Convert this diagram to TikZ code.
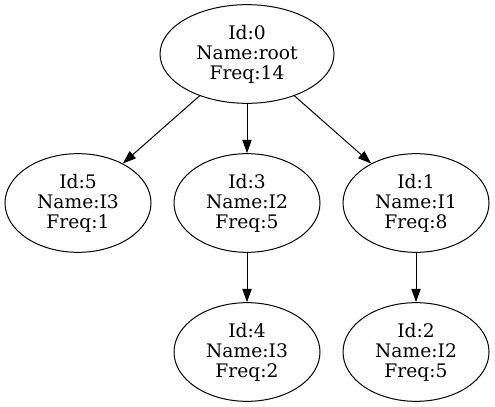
\documentclass[tikz,border=0pt]{standalone}
\usepackage{fontspec}
\setmainfont{DejaVu Serif}
\usetikzlibrary{shapes.geometric,arrows.meta}
\begin{document}
\begin{tikzpicture}[x=0.75pt,y=-0.75pt,
    tnode/.style={ellipse,draw,line width=0.75pt,inner sep=0pt,align=center,
        minimum width=109.5pt,minimum height=74pt,font=\fontsize{14}{15}\selectfont},
    >={Triangle[length=10pt,width=7pt]},every path/.style={line width=0.75pt}]
    \useasboundingbox (0,0) rectangle (495,406);
    \node[tnode,minimum width=130.5pt] (n0) at (247,54) {Id:0\\Name:root\\Freq:14};
    \node[tnode] (n5) at (78,203) {Id:5\\Name:I3\\Freq:1};
    \node[tnode] (n3) at (247,203) {Id:3\\Name:I2\\Freq:5};
    \node[tnode] (n1) at (416,203) {Id:1\\Name:I1\\Freq:8};
    \node[tnode] (n4) at (247,352) {Id:4\\Name:I3\\Freq:2};
    \node[tnode] (n2) at (416,352) {Id:2\\Name:I2\\Freq:5};
    \draw[->] (n0) -- (n5);
    \draw[->] (n0) -- (n3);
    \draw[->] (n0) -- (n1);
    \draw[->] (n3) -- (n4);
    \draw[->] (n1) -- (n2);
\end{tikzpicture}
\end{document}
